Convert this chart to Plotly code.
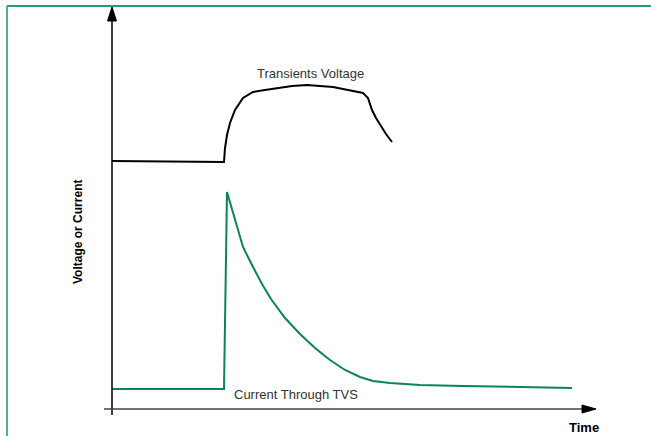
import plotly.graph_objects as go

# Units: time and value measured from the axis origin (arbitrary units)
voltage_time = [0, 112, 113, 115, 118, 123, 131, 141, 153, 165, 180, 195, 208, 221, 231, 243, 251, 256, 258, 260, 264, 268, 274, 280]
voltage_value = [248, 247, 261, 274, 286, 299, 311, 317, 319, 321, 323, 324, 323, 322, 320, 318, 316, 311, 305, 299, 291, 284, 275, 267]

current_time = [0, 112, 115, 123, 131, 141, 150, 159, 173, 188, 203, 218, 233, 248, 261, 278, 308, 351, 408, 460]
current_value = [20, 20, 217, 189, 162, 142, 125, 110, 91, 75, 61, 49, 39, 32, 28, 26, 24, 23, 22, 21]

voltage_label = "Transients Voltage"
current_label = "Current Through TVS"
y_title = "Voltage or Current"
x_title = "Time"

X0, Y0 = 112, 409  # pixel position of the axis origin
W, H = 651, 436
GREEN = "#0b8457"
FONT = "Liberation Sans Narrow, Arial Narrow, Liberation Sans, sans-serif"

fig = go.Figure()
fig.add_trace(go.Scatter(x=voltage_time, y=voltage_value, mode="lines",
                         line=dict(color="#000000", width=2), hoverinfo="skip"))
fig.add_trace(go.Scatter(x=current_time, y=current_value, mode="lines",
                         line=dict(color=GREEN, width=2), hoverinfo="skip"))

xr = [-X0, W - X0]
yr = [-(H - Y0), Y0]

shapes = []
# axes
shapes.append(dict(type="line", xref="x", yref="y", x0=0, x1=0, y0=-6, y1=395,
                   line=dict(color="#000000", width=1.5)))
shapes.append(dict(type="line", xref="x", yref="y", x0=-8, x1=472, y0=0, y1=0,
                   line=dict(color="#444444", width=1.5)))
# arrowheads
shapes.append(dict(type="path", xref="x", yref="y",
                   path="M -4.5,388 L 0,402 L 4.5,388 Z",
                   fillcolor="#000000", line=dict(color="#000000", width=1)))
shapes.append(dict(type="path", xref="x", yref="y",
                   path="M 470,4 L 484,0 L 470,-4 Z",
                   fillcolor="#000000", line=dict(color="#000000", width=1)))
# frame (top and left)
shapes.append(dict(type="line", xref="paper", yref="paper", x0=7/W, x1=1, y0=1-6/H, y1=1-6/H,
                   line=dict(color="#22a06b", width=2)))
shapes.append(dict(type="line", xref="paper", yref="paper", x0=7/W, x1=7/W, y0=0, y1=1-6/H,
                   line=dict(color="#4cb088", width=2)))

annotations = [
    dict(x=310 - X0, y=Y0 - 73, xref="x", yref="y", text=voltage_label, showarrow=False,
         font=dict(family=FONT, size=13, color="#333333")),
    dict(x=296 - X0, y=Y0 - 394, xref="x", yref="y", text=current_label, showarrow=False,
         font=dict(family=FONT, size=13, color="#333333")),
    dict(x=78 - X0, y=Y0 - 232, xref="x", yref="y", text="<b>" + y_title + "</b>", showarrow=False,
         textangle=-90, font=dict(family=FONT, size=12, color="#000000")),
    dict(x=584 - X0, y=Y0 - 427, xref="x", yref="y", text="<b>" + x_title + "</b>", showarrow=False,
         font=dict(family=FONT, size=13, color="#000000")),
]

fig.update_layout(
    width=W, height=H,
    margin=dict(l=0, r=0, t=0, b=0),
    paper_bgcolor="white", plot_bgcolor="white",
    showlegend=False,
    xaxis=dict(range=xr, visible=False, fixedrange=True),
    yaxis=dict(range=yr, visible=False, fixedrange=True),
    shapes=shapes,
    annotations=annotations,
)

fig.write_html("out.html", config={"displayModeBar": False},
               post_script="document.body.style.margin='0';document.body.style.overflow='hidden';")
